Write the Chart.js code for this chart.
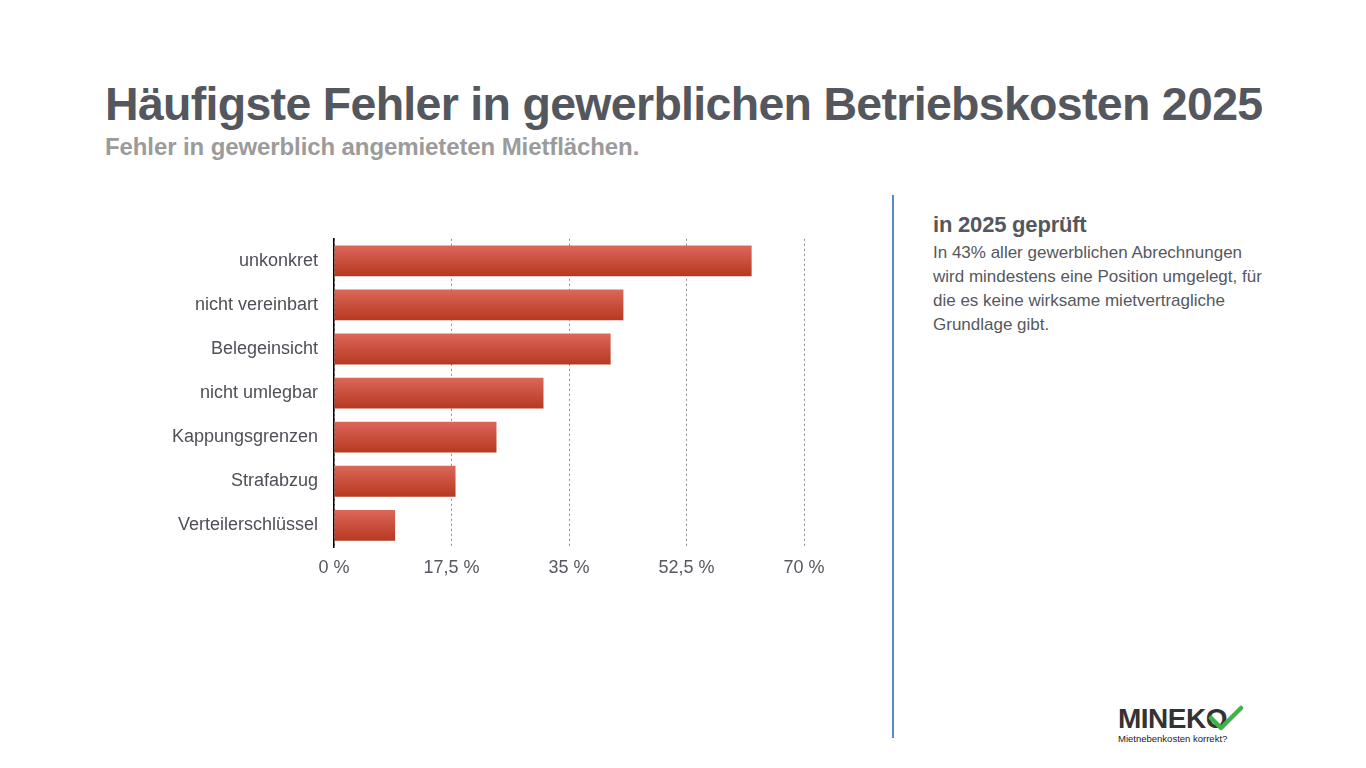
<!DOCTYPE html>
<html lang="de">
<head>
<meta charset="utf-8">
<title>Häufigste Fehler in gewerblichen Betriebskosten 2025</title>
<script src="https://cdn.jsdelivr.net/npm/chart.js@4.4.1/dist/chart.umd.min.js"></script>
<style>
    html, body { margin: 0; padding: 0; background: #fff; }
    body { width: 1366px; height: 768px; position: relative; overflow: hidden;
           font-family: "Liberation Sans", Arial, Helvetica, sans-serif; color: #55585e; }
    h1 { position: absolute; left: 105px; top: 77px; margin: 0; font-size: 46.5px; font-weight: bold;
         letter-spacing: -0.7px; color: #54575d; white-space: nowrap; }
    h2 { position: absolute; left: 105px; top: 133px; margin: 0; font-size: 24px; font-weight: bold;
         color: #9b9b9b; white-space: nowrap; letter-spacing: -0.1px; }
    #chartBox { position: absolute; left: 100px; top: 212px; width: 750px; height: 391px; }
    #divider { position: absolute; left: 892px; top: 195px; width: 2px; height: 543px; background: #5b88cc; }
    #side { position: absolute; left: 933px; top: 212px; width: 340px; }
    #side h3 { margin: 0 0 3px 0; font-size: 22px; font-weight: bold; color: #54575d; letter-spacing: -0.2px; }
    #side p { margin: 0; font-size: 17px; line-height: 24px; color: #55585e; }
    #logo { position: absolute; left: 1118px; top: 704px; }
    #logo .name { font-size: 28px; font-weight: bold; color: #333; letter-spacing: -0.5px; line-height: 29px; }
    #logo .claim { font-size: 9.5px; color: #222; line-height: 11px; }
    #logo svg { position: absolute; left: 90px; top: 1px; }
</style>
</head>
<body>
<h1>Häufigste Fehler in gewerblichen Betriebskosten 2025</h1>
<h2>Fehler in gewerblich angemieteten Mietflächen.</h2>

<div id="chartBox"><canvas id="barChart"></canvas></div>

<div id="divider"></div>
<div id="side">
    <h3>in 2025 geprüft</h3>
    <p>In 43% aller gewerblichen Abrechnungen wird mindestens eine Position umgelegt, für die es keine wirksame mietvertragliche Grundlage gibt.</p>
</div>

<div id="logo">
    <div class="name">MINEKO</div>
    <div class="claim">Mietnebenkosten korrekt?</div>
    <svg width="36" height="28" viewBox="0 0 36 28">
        <path d="M3 13 L13 23 L33 3" fill="none" stroke="#3fb24a" stroke-width="4.5" stroke-linecap="round" stroke-linejoin="round"/>
    </svg>
</div>

<script>
"use strict";

// Kategorien und Werte (Anteil in %)
const categories = ["unkonkret", "nicht vereinbart", "Belegeinsicht", "nicht umlegbar",
                    "Kappungsgrenzen", "Strafabzug", "Verteilerschlüssel"];
const errorShare = [62.2, 43.1, 41.2, 31.2, 24.2, 18.1, 9.1];
const tickValues = [0, 17.5, 35, 52.5, 70];

const barPct = 0.7;

// Verlauf pro Balken, hell oben, dunkel unten
function barGradient(c) {
    const chart = c.chart;
    const area = chart.chartArea;
    if (!area || c.dataIndex === undefined) return "#c9493a";
    const y = chart.scales.y.getPixelForValue(c.dataIndex);
    const half = (area.bottom - area.top) / categories.length * barPct / 2;
    const g = chart.ctx.createLinearGradient(0, y - half, 0, y + half);
    g.addColorStop(0, "#dc675a");
    g.addColorStop(1, "#b73820");
    return g;
}

function createBarChart() {
    const ctx = document.getElementById("barChart");
    new Chart(ctx, {
        type: "bar",
        data: {
            labels: categories,
            datasets: [{
                label: "Fehler",
                data: errorShare,
                backgroundColor: barGradient,
                borderWidth: 0,
                barPercentage: barPct,
                categoryPercentage: 1
            }]
        },
        options: {
            indexAxis: "y",
            responsive: true,
            maintainAspectRatio: false,
            animation: false,
            layout: { padding: { top: 0, right: 46, bottom: 14, left: 0 } },
            plugins: {
                legend: { display: false },
                tooltip: { enabled: false }
            },
            scales: {
                x: {
                    min: 0,
                    max: 70,
                    afterBuildTicks: scale => {
                        scale.ticks = tickValues.map(v => ({ value: v }));
                    },
                    ticks: {
                        padding: 10,
                        color: "#55585e",
                        font: { family: "'Liberation Sans', Arial, sans-serif", size: 18 },
                        callback: v => String(v).replace(".", ",") + " %"
                    },
                    grid: {
                        color: "#8a8a8a",
                        lineWidth: 1,
                        drawTicks: false
                    },
                    border: { display: false, dash: [2, 3] }
                },
                y: {
                    afterFit: scale => { scale.width = 234; },
                    ticks: {
                        padding: 16,
                        color: "#4d5057",
                        font: { family: "'Liberation Sans', Arial, sans-serif", size: 18 }
                    },
                    grid: { display: false, drawTicks: false },
                    border: { display: true, color: "#000", width: 1.5 }
                }
            }
        }
    });
}

document.addEventListener("DOMContentLoaded", () => {
    createBarChart();
});
</script>
</body>
</html>
